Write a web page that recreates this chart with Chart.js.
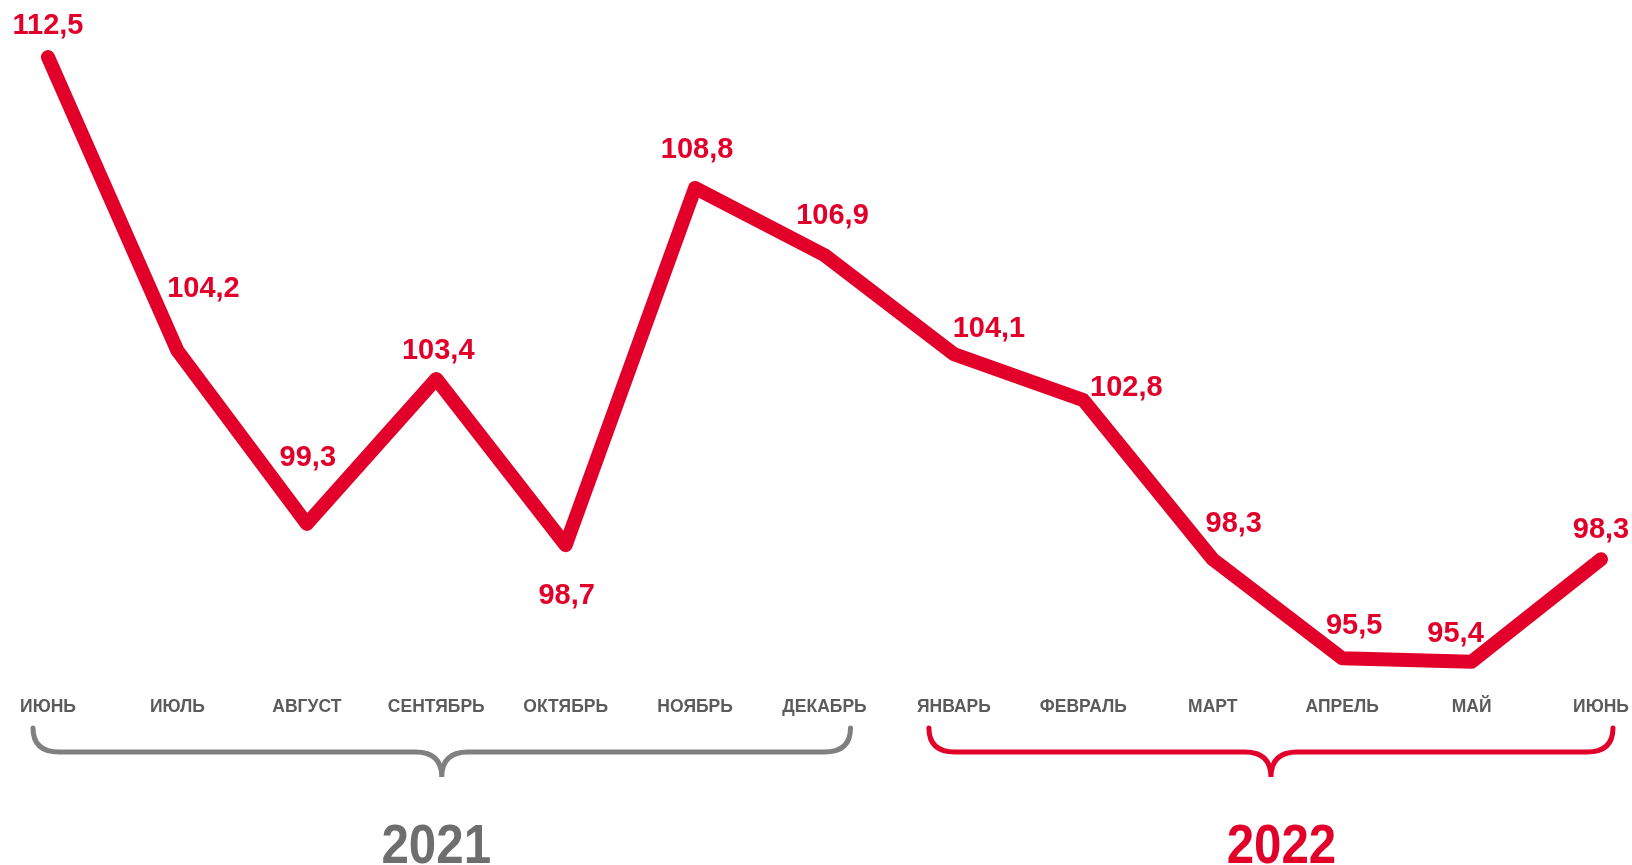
<!DOCTYPE html>
<html>
<head>
<meta charset="utf-8">
<script src="https://cdn.jsdelivr.net/npm/chart.js@4.4.1/dist/chart.umd.min.js"></script>
<style>
  html, body { margin: 0; padding: 0; background: #fff; }
  #wrap { width: 1632px; height: 865px; position: relative; }
</style>
</head>
<body>
<div id="wrap"><canvas id="chart"></canvas></div>
<script>
const months = [
  'ИЮНЬ', 'ИЮЛЬ', 'АВГУСТ', 'СЕНТЯБРЬ', 'ОКТЯБРЬ', 'НОЯБРЬ', 'ДЕКАБРЬ',
  'ЯНВАРЬ', 'ФЕВРАЛЬ', 'МАРТ', 'АПРЕЛЬ', 'МАЙ', 'ИЮНЬ',
]
const values = [112.5, 104.2, 99.3, 103.4, 98.7, 108.8, 106.9, 104.1, 102.8, 98.3, 95.5, 95.4, 98.3]
const years = [
  { label: '2021', from: 0, to: 6 },
  { label: '2022', from: 7, to: 12 },
]

const RED = '#e2002b'
const GREY = '#5b5b5b'
const FONT = "'Liberation Sans', Arial, sans-serif"

// where each value label sits relative to its point
const labelOffsets = [
  [0, -31], [26, -62], [1, -66], [2, -28], [1, 51], [2, -38], [8, -39],
  [35, -25], [43, -12], [21, -35], [12, -32], [-16, -28], [0, -29],
]
// how far each brace reaches past its first / last month
const bracePads = [[-15, 26], [-25, 12]]
const braceColors = ['#808080', RED]
const yearColors = ['#6e6e6e', RED]

const valueLabels = {
  id: 'valueLabels',
  afterDatasetsDraw(chart) {
    const { ctx } = chart
    const meta = chart.getDatasetMeta(0)
    ctx.save()
    ctx.font = `bold 29px ${FONT}`
    ctx.fillStyle = RED
    ctx.textAlign = 'center'
    ctx.textBaseline = 'middle'
    meta.data.forEach((pt, i) => {
      const [dx, dy] = labelOffsets[i]
      const text = values[i].toFixed(1).replace('.', ',')
      ctx.fillText(text, pt.x + dx, pt.y + dy)
    })
    ctx.restore()
  },
}

const yearBraces = {
  id: 'yearBraces',
  afterDraw(chart) {
    const { ctx } = chart
    const x = chart.scales.x
    const top = 728, mid = 752, bottom = 777
    years.forEach((y, i) => {
      const a = x.getPixelForValue(y.from)
      const b = x.getPixelForValue(y.to)
      const x0 = a + bracePads[i][0]
      const x1 = b + bracePads[i][1]
      const tip = (x0 + x1) / 2
      const r = 26
      ctx.save()
      ctx.strokeStyle = braceColors[i]
      ctx.lineWidth = 5
      ctx.lineCap = 'round'
      ctx.beginPath()
      ctx.moveTo(x0, top)
      ctx.quadraticCurveTo(x0, mid, x0 + r, mid)
      ctx.lineTo(tip - r, mid)
      ctx.quadraticCurveTo(tip, mid, tip, bottom)
      ctx.quadraticCurveTo(tip, mid, tip + r, mid)
      ctx.lineTo(x1 - r, mid)
      ctx.quadraticCurveTo(x1, mid, x1, top)
      ctx.stroke()

      ctx.fillStyle = yearColors[i]
      ctx.font = `bold 56px ${FONT}`
      ctx.textAlign = 'center'
      ctx.textBaseline = 'alphabetic'
      ctx.translate((a + b) / 2 + (i === 1 ? 4 : 0), 863)
      ctx.scale(0.88, 1)
      ctx.fillText(y.label, 0, 0)
      ctx.restore()
    })
  },
}

new Chart(document.getElementById('chart'), {
  type: 'line',
  data: {
    labels: months,
    datasets: [
      {
        data: values,
        borderColor: RED,
        borderWidth: 14,
        borderCapStyle: 'round',
        borderJoinStyle: 'round',
        pointRadius: 0,
        tension: 0,
        fill: false,
      },
    ],
  },
  options: {
    responsive: true,
    maintainAspectRatio: false,
    animation: false,
    layout: {
      padding: { left: 48, right: 31, top: 4, bottom: 126 },
    },
    plugins: {
      legend: { display: false },
      tooltip: { enabled: false },
    },
    scales: {
      x: {
        offset: false,
        grid: { display: false, drawTicks: false },
        border: { display: false },
        ticks: {
          color: GREY,
          padding: 21,
          maxRotation: 0,
          autoSkip: false,
          font: { family: FONT, size: 17.5, weight: 'bold' },
        },
        afterFit(scale) {
          scale.paddingLeft = 0
          scale.paddingRight = 0
        },
      },
      y: {
        display: false,
        min: 95,
        max: 114,
      },
    },
  },
  plugins: [valueLabels, yearBraces],
})
</script>
</body>
</html>
